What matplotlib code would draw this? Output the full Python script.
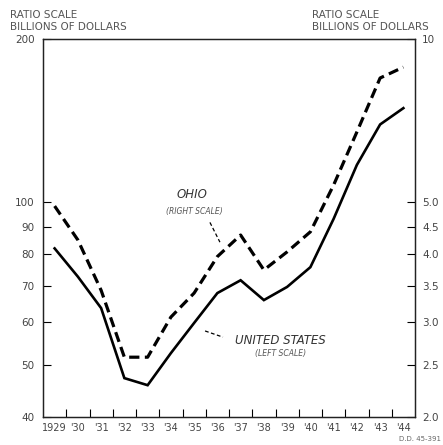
import matplotlib
matplotlib.use("Agg")
import matplotlib.pyplot as plt
import numpy as np

years = ["1929", "'30", "'31", "'32", "'33", "'34", "'35", "'36", "'37", "'38",
         "'39", "'40", "'41", "'42", "'43", "'44"]
us_left = [82.0, 72.7, 63.6, 47.2, 45.8, 52.5, 59.7, 67.8, 71.6, 65.8,
           69.6, 75.7, 93.0, 117.0, 139.0, 149.0]
ohio_right = [4.91, 4.25, 3.43, 2.58, 2.58, 3.06, 3.39, 3.96, 4.34, 3.74,
              4.04, 4.40, 5.37, 6.73, 8.47, 8.87]
left_ticks = [40, 50, 60, 70, 80, 90, 100, 200]
left_labels = ["40", "50", "60", "70", "80", "90", "100", "200"]
right_ticks = [2.0, 2.5, 3.0, 3.5, 4.0, 4.5, 5.0, 10]
right_labels = ["2.0", "2.5", "3.0", "3.5", "4.0", "4.5", "5.0", "10"]

tc = "#444444"
fig = plt.figure(figsize=(4.43, 4.45), dpi=100)
ax = fig.add_axes([43/443, 1-417/445, (415-43)/443, (417-39)/445])
ax2 = ax.twinx()

x = np.arange(len(years)) + 0.5
ax.plot(x, us_left, color="black", lw=1.9, solid_joinstyle="miter")
ln, = ax2.plot(x, ohio_right, color="black", lw=2.3)
ln.set_dashes((3.2, 1.7))

for a, lo, hi in ((ax, 40, 200), (ax2, 2.0, 10)):
    a.set_yscale("log")
    a.set_ylim(lo, hi)
    a.minorticks_off()
ax.set_xlim(0, len(years))

ax.set_yticks(left_ticks)
ax.set_yticklabels(left_labels)
ax2.set_yticks(right_ticks)
ax2.set_yticklabels(right_labels)
ax.tick_params(axis="y", direction="in", length=6, width=0.8, labelsize=7.5,
               labelcolor=tc, pad=6)
ax2.tick_params(axis="y", direction="in", length=6, width=0.8, labelsize=7.5,
                labelcolor=tc, pad=5)

ax.set_xticks(np.arange(1, len(years)))
ax.set_xticklabels([])
ax.set_xticks(x, minor=True)
ax.set_xticklabels(years, minor=True)
ax.tick_params(axis="x", which="major", direction="in", length=6, width=0.8)
ax.tick_params(axis="x", which="minor", length=0, labelsize=7,
               labelcolor=tc, pad=4)

for a in (ax, ax2):
    for s in a.spines.values():
        s.set_linewidth(0.9)
        s.set_color("#222222")

ax.text(6.4, 103, "OHIO", fontsize=8.5, style="italic", ha="center", va="center", color="#333333")
ax.text(6.5, 95.8, "(RIGHT SCALE)", fontsize=5.5, style="italic", ha="center", va="center", color="#555555")
ax.plot([7.18, 7.61], [91.6, 84.2], color="black", lw=0.9, ls=(0, (3, 2)))

ax.text(10.2, 55.5, "UNITED STATES", fontsize=8.5, style="italic", ha="center", va="center", color="#333333")
ax.text(10.2, 52.5, "(LEFT SCALE)", fontsize=5.5, style="italic", ha="center", va="center", color="#555555")
ax.plot([6.97, 7.74], [57.7, 56.2], color="black", lw=0.9, ls=(0, (3, 2)))

fig.text(10/443, 1-15/445, "RATIO SCALE", fontsize=7.5, color="#555555", va="center")
fig.text(10/443, 1-27/445, "BILLIONS OF DOLLARS", fontsize=7.5, color="#555555", va="center")
fig.text(312/443, 1-15/445, "RATIO SCALE", fontsize=7.5, color="#555555", va="center")
fig.text(312/443, 1-27/445, "BILLIONS OF DOLLARS", fontsize=7.5, color="#555555", va="center")
fig.text(441/443, 1-439/445, "D.D. 45-391", fontsize=5, color="#666666", ha="right", va="center")

fig.savefig("out.png", dpi=100)
